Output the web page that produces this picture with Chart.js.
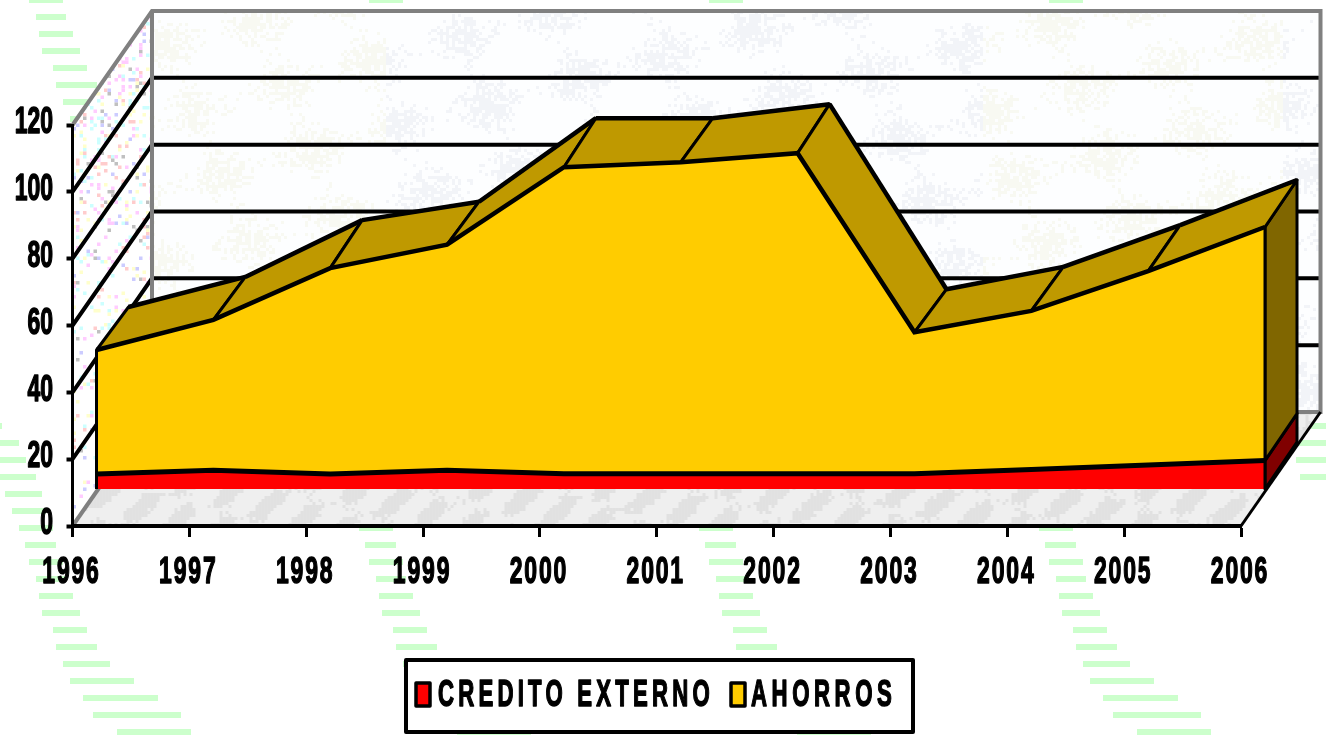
<!DOCTYPE html>
<html>
<head>
<meta charset="utf-8">
<style>
html, body { margin: 0; padding: 0; background: #fff; }
#wrap { width: 1326px; height: 736px; position: relative; }
</style>
<script src="https://cdn.jsdelivr.net/npm/chart.js@4"></script>
</head>
<body>
<div id="wrap"><canvas id="myChart" width="1326" height="736"></canvas></div>
<script>
const years = [1996, 1997, 1998, 1999, 2000, 2001, 2002, 2003, 2004, 2005, 2006];
const creditoExterno = [4.5, 5.6, 4.5, 5.6, 4.6, 4.6, 4.6, 4.6, 5.8, 7.2, 8.5];
const ahorros = [37.1, 45, 61.6, 67.5, 91.7, 93.2, 95.9, 42.3, 47.5, 58, 69.9];
const seriesNames = ["CREDITO EXTERNO", "AHORROS"];

// depth of the fake 3d box, in px
const wallDx = 79.5, wallDy = -114;
const frontDx = 24, frontDy = -37;
const topDx = 32;
// the top face is not quite the same depth at every year in the picture
const topDy = [-43, -43, -48, -43, -49, -44, -49, -43, -44, -46, -47];

const FONT = 'bold 37px "Liberation Sans", Arial, sans-serif';

// green wallpaper rows: y, left, right (one tile, repeats every 340 across, 562 down)
const paperRows = [
    [426, -50, 2], [443, -63, 19], [460, -64, 26], [477, -60, 36], [494, 5, 42], [511, 12, 46],
    [528, 19, 53], [545, 25, 56], [562, 29, 63], [579, 36, 66], [596, 39, 73], [613, 42, 80],
    [630, 53, 87], [647, 56, 97], [664, 63, 110], [681, 70, 134], [698, 83, 158], [715, 93, 181],
    [732, 117, 191]
];

function hash(i, j) {
    const s = Math.sin(i * 127.1 + j * 311.7) * 43758.5453;
    return s - Math.floor(s);
}

function drawPaper(ctx) {
    ctx.fillStyle = "#ccffcc";
    for (let k = 0; k < 5; k += 1) {
        for (const row of paperRows) {
            ctx.fillRect(row[1] + k * 340, row[0] - 3, row[2] - row[1], 6);
            ctx.fillRect(row[1] + k * 340, row[0] - 565, row[2] - row[1], 6);
        }
    }
}

function poly(ctx, pts) {
    ctx.beginPath();
    ctx.moveTo(pts[0][0], pts[0][1]);
    for (let i = 1; i < pts.length; i += 1) {
        ctx.lineTo(pts[i][0], pts[i][1]);
    }
    ctx.closePath();
}

function drawBox(chart) {
    const ctx = chart.ctx;
    const x = chart.scales.x, y = chart.scales.y;
    const left = x.left, right = x.right, bottom = y.bottom, top = y.top;

    // back wall, faint mottling
    ctx.fillStyle = "#fdfeff";
    ctx.fillRect(left + wallDx, top + wallDy, right - left, bottom - top);
    for (let i = 0; i < 390; i += 1) {
        for (let j = 0; j < 134; j += 1) {
            const px = left + wallDx + i * 3, py = top + wallDy + j * 3;
            const patch = Math.sin(i * 0.13 + j * 0.09) * Math.sin(j * 0.17 - i * 0.06) * 0.5;
            if (patch + hash(i, j) * 0.7 > 0.62) {
                const warm = Math.sin(i * 0.021 + 1) > 0.5;
                ctx.fillStyle = warm ? "rgba(235,235,205,0.25)" : "rgba(205,210,222,0.22)";
                ctx.fillRect(px, py, 3, 3);
            }
        }
    }

    // side wall, confetti
    ctx.save();
    poly(ctx, [[left, bottom], [left, top], [left + wallDx, top + wallDy], [left + wallDx, bottom + wallDy]]);
    ctx.fillStyle = "#ffffff";
    ctx.fill();
    ctx.clip();
    const confetti = ["#ffffcc", "#ffccff", "#ccffff", "#ccccff", "#ffcccc", "#ffffcc", "#ccffff", "#ffccff", "#c0c0c0"];
    for (let i = 0; i < 24; i += 1) {
        for (let j = 0; j < 150; j += 1) {
            const h = hash(i + 3, j + 9);
            const density = 0.27 - j * 0.0016;
            if (h < density) {
                ctx.fillStyle = confetti[Math.floor(hash(j, i) * confetti.length)];
                ctx.fillRect(left + i * 3.5, 8 + j * 3.5, 3.5, 3.5);
            }
        }
    }
    ctx.restore();

    // floor, gray marble
    ctx.save();
    poly(ctx, [[left, bottom], [left + wallDx, bottom + wallDy], [right + wallDx, bottom + wallDy], [right, bottom]]);
    ctx.fillStyle = "#efefef";
    ctx.fill();
    ctx.clip();
    for (let i = 0; i < 440; i += 1) {
        for (let j = 0; j < 40; j += 1) {
            const streak = Math.sin((i + j) * 0.38) * Math.sin(i * 0.07 - j * 0.2) + hash(i, j) * 0.6;
            if (streak > 0.45) {
                ctx.fillStyle = "rgba(205,205,205,0.4)";
                ctx.fillRect(left + i * 3, bottom + wallDy + j * 3, 3, 3);
            }
        }
    }
    ctx.restore();

    // grid on the walls, from the y axis ticks
    ctx.strokeStyle = "#000";
    ctx.lineWidth = 4;
    y.ticks.forEach(function (t, i) {
        if (t.value === 0 || t.value === y.max) return;
        const py = y.getPixelForTick(i);
        ctx.beginPath();
        ctx.moveTo(left, py);
        ctx.lineTo(left + wallDx, py + wallDy);
        ctx.lineTo(right + wallDx, py + wallDy);
        ctx.stroke();
    });

    // wall outline
    ctx.strokeStyle = "#808080";
    ctx.lineWidth = 4;
    ctx.beginPath();
    ctx.moveTo(left, top);
    ctx.lineTo(left + wallDx, top + wallDy);
    ctx.lineTo(right + wallDx, top + wallDy);
    ctx.lineTo(right + wallDx, bottom + wallDy);
    ctx.lineTo(left + wallDx, bottom + wallDy);
    ctx.lineTo(left + wallDx, top + wallDy);
    ctx.stroke();
    ctx.beginPath();
    ctx.moveTo(left, bottom);
    ctx.lineTo(left + wallDx, bottom + wallDy);
    ctx.stroke();
    ctx.strokeStyle = "#000";
    ctx.lineWidth = 3;
    ctx.beginPath();
    ctx.moveTo(right, bottom);
    ctx.lineTo(right + wallDx, bottom + wallDy);
    ctx.stroke();
}

function drawTopFaces(chart) {
    const ctx = chart.ctx;
    const lower = chart.getDatasetMeta(0).data;
    const upper = chart.getDatasetMeta(1).data;
    const baseY = chart.scales.y.getPixelForValue(0) + frontDy;
    const last = upper.length - 1;
    const fx = function (p) { return p.x + frontDx; };
    const fy = function (p) { return p.y + frontDy; };
    const lift = topDy[last];

    ctx.lineJoin = "round";
    ctx.strokeStyle = "#000";
    ctx.lineWidth = 3;

    // side faces at the right end
    poly(ctx, [[fx(upper[last]), fy(lower[last])], [fx(upper[last]) + topDx, fy(lower[last]) + lift],
        [fx(upper[last]) + topDx, baseY + lift], [fx(upper[last]), baseY]]);
    ctx.fillStyle = "#800000";
    ctx.fill();
    ctx.stroke();
    poly(ctx, [[fx(upper[last]), fy(upper[last])], [fx(upper[last]) + topDx, fy(upper[last]) + lift],
        [fx(upper[last]) + topDx, fy(lower[last]) + lift], [fx(upper[last]), fy(lower[last])]]);
    ctx.fillStyle = "#806600";
    ctx.fill();
    ctx.stroke();

    // sloped top faces
    for (let i = 0; i < last; i += 1) {
        const a = upper[i], b = upper[i + 1];
        poly(ctx, [[fx(a), fy(a)], [fx(b), fy(b)], [fx(b) + topDx, fy(b) + topDy[i + 1]], [fx(a) + topDx, fy(a) + topDy[i]]]);
        ctx.fillStyle = "#bf9900";
        ctx.fill();
        ctx.lineWidth = 3;
        ctx.stroke();
        ctx.lineWidth = 4.5;
        ctx.beginPath();
        ctx.moveTo(fx(a) + topDx, fy(a) + topDy[i]);
        ctx.lineTo(fx(b) + topDx, fy(b) + topDy[i + 1]);
        ctx.stroke();
    }
}

function drawFrontEdges(chart) {
    const ctx = chart.ctx;
    const upper = chart.getDatasetMeta(1).data;
    const baseY = chart.scales.y.getPixelForValue(0) + frontDy;
    const last = upper.length - 1;
    ctx.strokeStyle = "#000";
    ctx.lineWidth = 3;
    ctx.beginPath();
    ctx.moveTo(upper[0].x + frontDx, upper[0].y + frontDy);
    ctx.lineTo(upper[0].x + frontDx, baseY);
    ctx.moveTo(upper[last].x + frontDx, upper[last].y + frontDy);
    ctx.lineTo(upper[last].x + frontDx, baseY);
    ctx.stroke();
}

// condensed bold text, canvas has no stretch for these fonts
function narrowText(ctx, text, x, y, sx, spacing, align) {
    ctx.save();
    ctx.font = FONT;
    ctx.fillStyle = "#000";
    ctx.strokeStyle = "#000";
    ctx.lineWidth = 1.5;
    ctx.lineJoin = "round";
    ctx.textBaseline = "middle";
    ctx.textAlign = align;
    ctx.letterSpacing = spacing + "px";
    ctx.scale(sx, 1);
    ctx.fillText(text, x / sx, y);
    ctx.strokeText(text, x / sx, y);
    ctx.restore();
}

function drawLabels(chart) {
    const ctx = chart.ctx;
    const x = chart.scales.x, y = chart.scales.y;
    y.ticks.forEach(function (t, i) {
        narrowText(ctx, t.label, 53, y.getPixelForTick(i) - 2, 0.62, 0, "right");
    });
    x.ticks.forEach(function (t, i) {
        narrowText(ctx, t.label, x.getPixelForTick(i) - 1, 573, 0.62, 3, "center");
    });
}

function drawLegend(chart) {
    const ctx = chart.ctx;
    const colors = chart.data.datasets.map(function (d) { return d.backgroundColor; });
    const names = chart.data.datasets.map(function (d) { return d.label; });
    ctx.fillStyle = "#fff";
    ctx.fillRect(406, 660, 507, 72);
    ctx.strokeStyle = "#000";
    ctx.lineWidth = 4;
    ctx.strokeRect(406, 660, 507, 72);

    ctx.lineWidth = 3.5;
    ctx.fillStyle = colors[0];
    ctx.fillRect(416, 683, 14, 23);
    ctx.strokeRect(416, 683, 14, 23);
    narrowText(ctx, names[0], 438, 696, 0.6, 7, "left");

    ctx.fillStyle = colors[1];
    ctx.fillRect(731, 683, 14, 23);
    ctx.strokeRect(731, 683, 14, 23);
    narrowText(ctx, names[1], 751, 696, 0.6, 7.6, "left");
}

const box3d = {
    id: "box3d",
    beforeDraw: function (chart) {
        const ctx = chart.ctx;
        ctx.fillStyle = "#fff";
        ctx.fillRect(0, 0, chart.width, chart.height);
        drawPaper(ctx);
        drawBox(chart);
    },
    beforeDatasetsDraw: function (chart) {
        drawTopFaces(chart);
        chart.ctx.save();
        chart.ctx.translate(frontDx, frontDy);
    },
    afterDatasetsDraw: function (chart) {
        chart.ctx.restore();
        drawFrontEdges(chart);
    },
    afterDraw: function (chart) {
        drawLabels(chart);
        drawLegend(chart);
    }
};

function toPoints(values) {
    return years.map(function (yr, i) { return { x: yr, y: values[i] }; });
}

const ctx = document.getElementById("myChart").getContext("2d");
const myChart = new Chart(ctx, {
    type: "line",
    data: {
        datasets: [{
            label: seriesNames[0],
            data: toPoints(creditoExterno),
            backgroundColor: "#ff0000",
            borderColor: "#000",
            borderWidth: 5,
            pointRadius: 0,
            tension: 0,
            fill: "origin",
            clip: false
        }, {
            label: seriesNames[1],
            data: toPoints(ahorros),
            backgroundColor: "#ffcc00",
            borderColor: "#000",
            borderWidth: 4.5,
            pointRadius: 0,
            tension: 0,
            fill: "-1",
            clip: false
        }]
    },
    options: {
        responsive: false,
        animation: false,
        layout: { padding: { top: 125, right: 85, left: 0, bottom: 0 } },
        plugins: { legend: { display: false }, tooltip: { enabled: false } },
        scales: {
            x: {
                type: "linear",
                min: 1996,
                max: 2006,
                afterFit: function (s) { s.height = 210; },
                ticks: { stepSize: 1, display: false, callback: function (v) { return String(v); } },
                grid: { drawOnChartArea: false, drawTicks: true, tickLength: 11, tickColor: "#000", tickWidth: 3 },
                border: { display: true, color: "#000", width: 4 }
            },
            y: {
                stacked: true,
                min: 0,
                max: 120,
                afterFit: function (s) { s.width = 72.5; },
                ticks: { stepSize: 20, display: false },
                grid: { drawOnChartArea: false, drawTicks: true, tickLength: 6, tickColor: "#000", tickWidth: 4 },
                border: { display: true, color: "#000", width: 3 }
            }
        }
    },
    plugins: [box3d]
});
</script>
</body>
</html>
